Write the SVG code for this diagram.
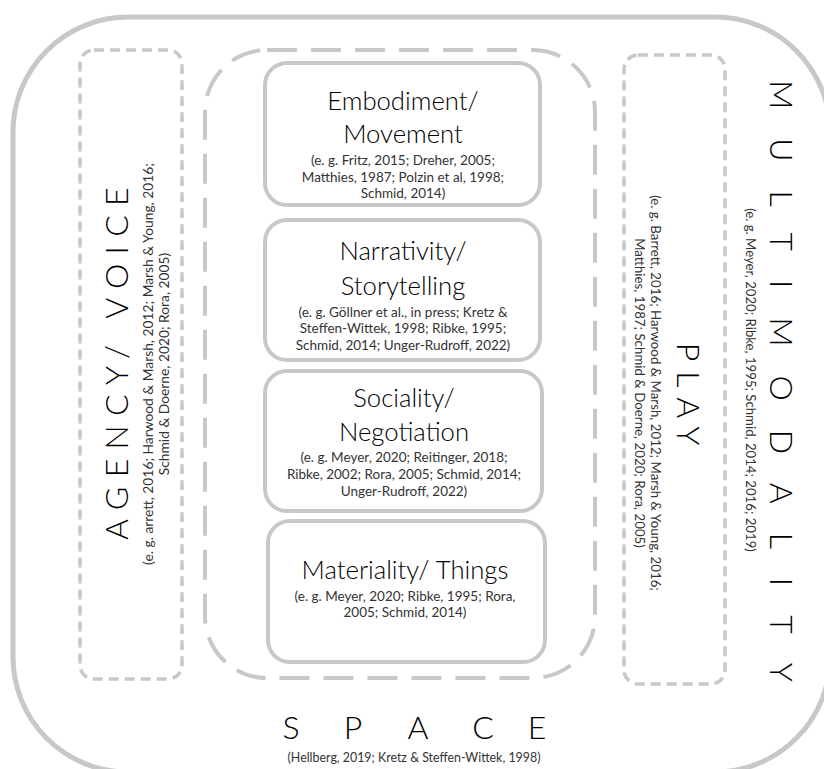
<svg xmlns="http://www.w3.org/2000/svg" width="824" height="769" viewBox="0 0 824 769">
<style>
.outer{fill:none;stroke:#c8c8c8;stroke-width:5}
.sdash{fill:none;stroke:#c8c8c8;stroke-width:3.5;stroke-dasharray:10 6}
.ldash{fill:none;stroke:#c8c8c8;stroke-width:4;stroke-dasharray:30 14}
.box{fill:#fff;stroke:#c8c8c8;stroke-width:4}
.title{font-family:Lato,"Open Sans","Liberation Sans",sans-serif;font-weight:300;font-size:25.7px;fill:#000;text-anchor:middle}
.cite{font-family:Lato,"Open Sans","Liberation Sans",sans-serif;font-size:13.5px;fill:#333;text-anchor:middle}
.big{font-family:Lato,"Open Sans","Liberation Sans",sans-serif;font-weight:300;font-size:32px;fill:#000;text-anchor:middle}
</style>
<rect class="outer" x="13" y="17" width="817" height="755" rx="115"/>

<g id="space">
  <text class="big" y="739"><tspan x="291">S</tspan><tspan x="353">P</tspan><tspan x="418">A</tspan><tspan x="483">C</tspan><tspan x="537">E</tspan></text>
  <text class="cite" x="414" y="762" style="font-size:12.4px">(Hellberg, 2019; Kretz &amp; Steffen-Wittek, 1998)</text>
</g>

<g id="agency">
  <rect class="sdash" x="80" y="50" width="102" height="629" rx="14"/>
  <g transform="translate(128,359) rotate(-90)">
    <text class="big" x="0" y="0" letter-spacing="9.3">AGENCY/ VOICE</text>
  </g>
  <g transform="translate(153,364) rotate(-90)">
    <text class="cite" x="0" y="0" style="font-size:13.8px">(e. g. arrett, 2016; Harwood &amp; Marsh, 2012; Marsh &amp; Young, 2016;</text>
    <text class="cite" x="0" y="15.5" style="font-size:13.8px">Schmid &amp; Doerne, 2020; Rora, 2005)</text>
  </g>
</g>

<g id="core">
  <rect class="ldash" x="205" y="50" width="390" height="628" rx="62"/>
</g>

<g id="embodiment">
  <rect class="box" x="265" y="63" width="275" height="142" rx="22"/>
  <text class="title" x="403" y="110">Embodiment/</text>
  <text class="title" x="403" y="143">Movement</text>
  <text class="cite" x="403" y="165">(e. g. Fritz, 2015; Dreher, 2005;</text>
  <text class="cite" x="403" y="182">Matthies, 1987; Polzin et al, 1998;</text>
  <text class="cite" x="403" y="198">Schmid, 2014)</text>
</g>

<g id="narrativity">
  <rect class="box" x="265" y="220" width="275" height="140" rx="22"/>
  <text class="title" x="403" y="260">Narrativity/</text>
  <text class="title" x="403" y="295">Storytelling</text>
  <text class="cite" x="403" y="317">(e. g. Göllner et al., in press; Kretz &amp;</text>
  <text class="cite" x="403" y="333">Steffen-Wittek, 1998; Ribke, 1995;</text>
  <text class="cite" x="403" y="350">Schmid, 2014; Unger-Rudroff, 2022)</text>
</g>

<g id="sociality">
  <rect class="box" x="265" y="371" width="277" height="140" rx="22"/>
  <text class="title" x="404" y="407">Sociality/</text>
  <text class="title" x="404" y="441">Negotiation</text>
  <text class="cite" x="404" y="462">(e. g. Meyer, 2020; Reitinger, 2018;</text>
  <text class="cite" x="404" y="479">Ribke, 2002; Rora, 2005; Schmid, 2014;</text>
  <text class="cite" x="404" y="496">Unger-Rudroff, 2022)</text>
</g>

<g id="materiality">
  <rect class="box" x="268" y="521" width="277" height="141" rx="22"/>
  <text class="title" x="405" y="579">Materiality/ Things</text>
  <text class="cite" x="405" y="601">(e. g. Meyer, 2020; Ribke, 1995; Rora,</text>
  <text class="cite" x="405" y="617">2005; Schmid, 2014)</text>
</g>

<g id="play">
  <rect class="sdash" x="624" y="55" width="101" height="629" rx="14"/>
  <g transform="translate(677,399) rotate(90)">
    <text class="big" x="0" y="0" letter-spacing="10">PLAY</text>
  </g>
  <g transform="translate(651,393) rotate(90)">
    <text class="cite" x="0" y="0" style="font-size:13.3px">(e. g. Barrett, 2016; Harwood &amp; Marsh, 2012; Marsh &amp; Young, 2016;</text>
    <text class="cite" x="0" y="16" style="font-size:13.3px">Matthies, 1987; Schmid &amp; Doerne, 2020; Rora, 2005)</text>
  </g>
</g>

<g id="multimodality">
  <g transform="translate(770,395.5) rotate(90)">
    <text class="big" x="0" y="0" letter-spacing="29">MULTIMODALITY</text>
  </g>
  <g transform="translate(746,380) rotate(90)">
    <text class="cite" x="0" y="0" style="font-size:13.2px">(e. g. Meyer, 2020; Ribke, 1995; Schmid, 2014; 2016; 2019)</text>
  </g>
</g>

<g id="connectors"></g>
</svg>
